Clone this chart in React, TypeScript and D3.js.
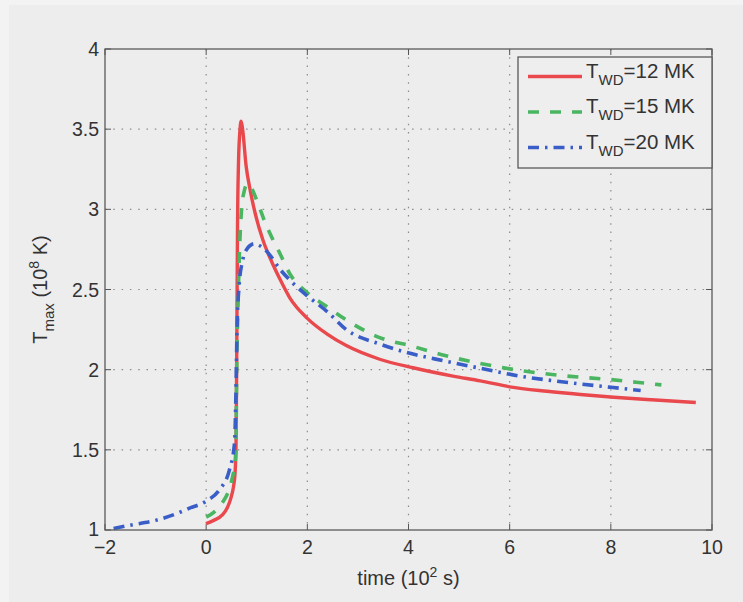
import React from "react";
import * as d3 from "d3";

const xTicks = [-2, 0, 2, 4, 6, 8, 10];
const yTicks = [1, 1.5, 2, 2.5, 3, 3.5, 4];
const yTickLabels = ["1", "1.5", "2", "2.5", "3", "3.5", "4"];

const redT = [0, 0.15, 0.32, 0.42, 0.49, 0.54, 0.57, 0.59, 0.6, 0.61, 0.62, 0.64, 0.67, 0.69, 0.72, 0.79, 0.87, 0.95, 1.12, 1.3, 1.45, 1.65, 2.0, 2.4, 2.77, 3.43, 4.09, 4.88, 5.42, 6.0, 6.74, 7.4, 8.06, 8.8, 9.68];
const redV = [1.04, 1.06, 1.094, 1.14, 1.2, 1.27, 1.35, 1.52, 1.9, 2.4, 2.9, 3.3, 3.5, 3.55, 3.5, 3.27, 3.12, 3.0, 2.81, 2.67, 2.57, 2.45, 2.32, 2.22, 2.15, 2.065, 2.012, 1.96, 1.93, 1.893, 1.865, 1.845, 1.828, 1.812, 1.795];

const greenT = [0, 0.15, 0.32, 0.45, 0.52, 0.57, 0.59, 0.6, 0.63, 0.66, 0.7, 0.75, 0.82, 0.9, 1.02, 1.15, 1.32, 1.45, 1.65, 2.0, 2.4, 2.77, 3.43, 4.09, 4.7, 5.4, 6.0, 6.61, 7.2, 7.86, 8.5, 9.0];
const greenV = [1.08, 1.11, 1.17, 1.25, 1.33, 1.42, 1.52, 1.9, 2.4, 2.75, 3.0, 3.11, 3.16, 3.13, 3.04, 2.93, 2.81, 2.73, 2.6, 2.48, 2.39, 2.31, 2.2, 2.145, 2.09, 2.04, 2.005, 1.978, 1.958, 1.942, 1.922, 1.905];

const blueT = [-1.83, -1.5, -1.0, -0.6, -0.34, 0, 0.26, 0.46, 0.56, 0.59, 0.61, 0.65, 0.72, 0.8, 0.95, 1.1, 1.22, 1.45, 1.78, 2.0, 2.4, 2.77, 3.43, 3.93, 4.7, 5.4, 6.2, 6.94, 8.0, 8.59];
const blueV = [1.01, 1.03, 1.06, 1.1, 1.135, 1.18, 1.25, 1.375, 1.54, 1.875, 2.25, 2.52, 2.68, 2.75, 2.785, 2.765, 2.73, 2.63, 2.52, 2.46, 2.36, 2.25, 2.16, 2.11, 2.055, 2.01, 1.96, 1.928, 1.89, 1.87];

const seriesLabels = ["=12 MK", "=15 MK", "=20 MK"];

const FONT = "'Liberation Sans', Arial, Helvetica, sans-serif";
const TXT = "#333";

export default function App() {
  const W = 743, H = 602;
  const left = 105, right = 712, top = 49, bottom = 530;
  const x = d3.scaleLinear().domain([-2, 10]).range([left, right]);
  const y = d3.scaleLinear().domain([1, 4]).range([bottom, top]);

  const mk = (ts: number[], vs: number[]) => ts.map((t, i) => [t, vs[i]] as [number, number]);
  const line = d3.line<[number, number]>().x(d => x(d[0])).y(d => y(d[1])).curve(d3.curveMonotoneX);

  const series = [
    { data: mk(redT, redV), color: "#e9484d", width: 3.4, dash: "none" },
    { data: mk(greenT, greenV), color: "#4bb661", width: 3.6, dash: "11 11" },
    { data: mk(blueT, blueV), color: "#3a5ec8", width: 3.6, dash: "11 6 2.5 6" },
  ];

  const gridDash = "1.5 6.8";
  const tickLen = 6;

  return (
    <svg width={W} height={H} style={{ position: "fixed", left: 0, top: 0 }} fontFamily={FONT}>
      <rect x={0} y={0} width={W} height={H} fill="#f4f3f4" />
      <rect x={9} y={5} width={W - 9} height={H - 5} fill="#eeedee" />
      {/* grid */}
      {xTicks.slice(1, -1).map(t => (
        <line key={"gx" + t} x1={x(t)} x2={x(t)} y1={top} y2={bottom} stroke="#8c8c8c" strokeWidth={1.2} strokeDasharray={gridDash} />
      ))}
      {yTicks.slice(1, -1).map(t => (
        <line key={"gy" + t} x1={left} x2={right} y1={y(t)} y2={y(t)} stroke="#8c8c8c" strokeWidth={1.2} strokeDasharray={gridDash} />
      ))}
      {/* ticks */}
      {xTicks.map(t => (
        <g key={"tx" + t}>
          <line x1={x(t)} x2={x(t)} y1={bottom} y2={bottom - tickLen} stroke="#555" strokeWidth={1} />
          <line x1={x(t)} x2={x(t)} y1={top} y2={top + tickLen} stroke="#555" strokeWidth={1} />
          <text x={x(t)} y={554} textAnchor="middle" fontSize={19.5} fill={TXT}>{t < 0 ? "\u2212" + Math.abs(t) : String(t)}</text>
        </g>
      ))}
      {yTicks.map((t, i) => (
        <g key={"ty" + t}>
          <line x1={left} x2={left + tickLen} y1={y(t)} y2={y(t)} stroke="#555" strokeWidth={1} />
          <line x1={right} x2={right - tickLen} y1={y(t)} y2={y(t)} stroke="#555" strokeWidth={1} />
          <text x={99} y={y(t) - (i === 0 ? 1 : 0)} dy="0.36em" textAnchor="end" fontSize={19.5} fill={TXT}>{yTickLabels[i]}</text>
        </g>
      ))}
      {/* curves */}
      {series.map((s, i) => (
        <path key={"s" + i} d={line(s.data) || ""} fill="none" stroke={s.color} strokeWidth={s.width} strokeDasharray={s.dash} strokeLinejoin="round" />
      ))}
      {/* axes box */}
      <rect x={left} y={top} width={right - left} height={bottom - top} fill="none" stroke="#5a5a5a" strokeWidth={1.3} />
      {/* legend */}
      <rect x={518} y={57} width={right - 518} height={111} fill="#efeeef" stroke="#5a5a5a" strokeWidth={1.3} />
      {series.map((s, i) => {
        const ly = 76.5 + i * 35.5;
        return (
          <g key={"lg" + i}>
            <line x1={528} x2={582} y1={ly} y2={ly} stroke={s.color} strokeWidth={s.width} strokeDasharray={s.dash} />
            <text x={586} y={ly + 1} fontSize={20.5} fill={TXT}>
              T
              <tspan dy={7} fontSize={15}>WD</tspan>
              <tspan dy={-7}>{seriesLabels[i]}</tspan>
            </text>
          </g>
        );
      })}
      {/* axis labels */}
      <text x={(left + right) / 2} y={585} textAnchor="middle" fontSize={20} fill={TXT}>
        time (10
        <tspan dy={-8} fontSize={14}>2</tspan>
        <tspan dy={8}> s)</tspan>
      </text>
      <text transform={`translate(47, ${(top + bottom) / 2}) rotate(-90)`} textAnchor="middle" fontSize={20} fill={TXT}>
        T
        <tspan dy={7} fontSize={15}>max</tspan>
        <tspan dy={-7}> (10</tspan>
        <tspan dy={-8} fontSize={14}>8</tspan>
        <tspan dy={8}> K)</tspan>
      </text>
    </svg>
  );
}
